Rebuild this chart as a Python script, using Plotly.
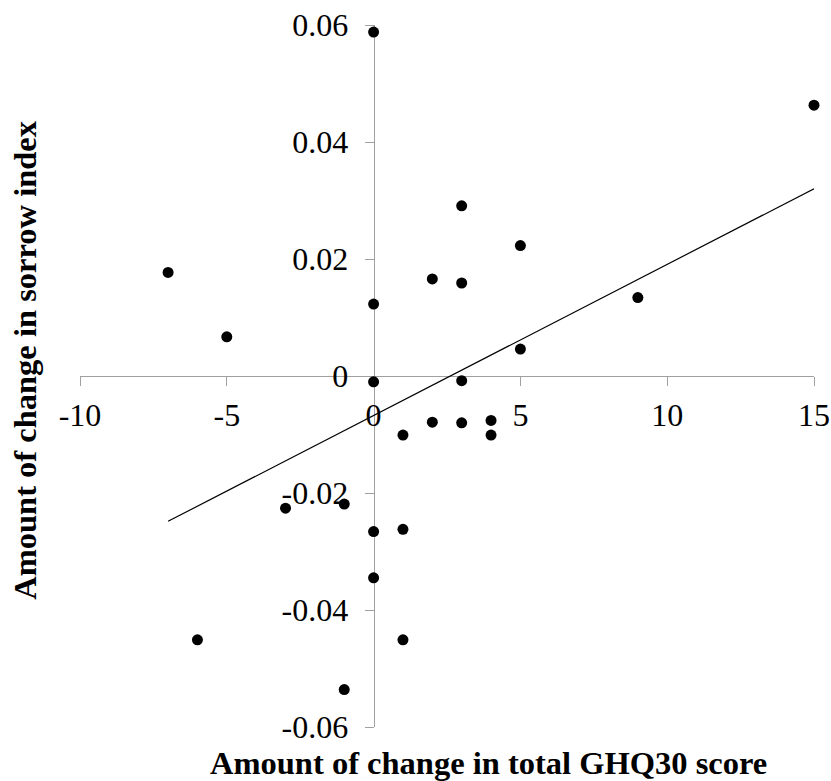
import numpy as np
import plotly.graph_objects as go

# GHQ30 change (x) vs sorrow index change (y)
ghq_change = [0, 15, 3, 5, -7, 2, 3, 9, 0, -5, 5, 0, 3, 1, 2, 3, 4, 4,
              -1, -3, 1, 0, 0, -6, 1, -1]
sorrow_change = [0.0588, 0.0463, 0.0291, 0.0223, 0.0177, 0.0166, 0.0159, 0.0134,
                 0.0123, 0.0067, 0.0046, -0.0010, -0.0008, -0.0101, -0.0079,
                 -0.0080, -0.0076, -0.0101, -0.0219, -0.0226, -0.0262, -0.0266,
                 -0.0345, -0.0451, -0.0451, -0.0536]

x_tickvals = [-10, -5, 0, 5, 10, 15]
x_ticktext = ["-10", "-5", "0", "5", "10", "15"]
y_tickvals = [-0.06, -0.04, -0.02, 0, 0.02, 0.04, 0.06]
y_ticktext = ["-0.06", "-0.04", "-0.02", "0", "0.02", "0.04", "0.06"]

x_title = "Amount of change in total GHQ30 score"
y_title = "Amount of change in sorrow index"

# linear trend line
slope, intercept = np.polyfit(ghq_change, sorrow_change, 1)
trend_x = [min(ghq_change), max(ghq_change)]
trend_y = [slope * v + intercept for v in trend_x]

FONT = "Liberation Serif, Times New Roman, serif"
AXIS_COLOR = "#a0a0a0"

fig = go.Figure()
fig.add_trace(go.Scatter(x=trend_x, y=trend_y, mode="lines",
                         line=dict(color="black", width=1.2), hoverinfo="skip"))
fig.add_trace(go.Scatter(x=ghq_change, y=sorrow_change, mode="markers",
                         marker=dict(color="black", size=11), cliponaxis=False))

fig.update_layout(
    width=831, height=781,
    margin=dict(l=80, r=17, t=25, b=54, autoexpand=False),
    paper_bgcolor="white", plot_bgcolor="white",
    showlegend=False,
    font=dict(family=FONT, size=32, color="black"),
    xaxis=dict(range=[-10, 15], anchor="free", position=0.5,
               tickvals=x_tickvals, ticktext=x_ticktext,
               showgrid=False, zeroline=False, automargin=False,
               showline=True, linecolor=AXIS_COLOR, linewidth=1,
               ticks="outside", ticklen=9, tickcolor=AXIS_COLOR, tickwidth=1,
               ticklabelstandoff=2, ticklabeloverflow="allow",
               tickfont=dict(family=FONT, size=32, color="black"),
               layer="below traces"),
    yaxis=dict(range=[-0.06, 0.06], anchor="free", position=0.4,
               tickvals=y_tickvals, ticktext=y_ticktext,
               showgrid=False, zeroline=False, automargin=False,
               showline=True, linecolor=AXIS_COLOR, linewidth=1,
               ticks="outside", ticklen=9, tickcolor=AXIS_COLOR, tickwidth=1,
               ticklabelstandoff=10, ticklabeloverflow="allow",
               tickfont=dict(family=FONT, size=32, color="black"),
               layer="below traces"),
    annotations=[
        dict(text="<b>" + x_title + "</b>", xref="paper", yref="paper",
             x=0.5565, y=-0.051, xanchor="center", yanchor="middle",
             showarrow=False, font=dict(family=FONT, size=32.5, color="black")),
        dict(text="<b>" + y_title + "</b>", xref="paper", yref="paper",
             x=-0.075, y=0.523, xanchor="center", yanchor="middle",
             textangle=-90, showarrow=False,
             font=dict(family=FONT, size=32.5, color="black")),
    ],
)

fig.write_html(
    "out.html",
    config={"displayModeBar": False},
    post_script="document.body.style.margin='0';document.body.style.overflow='hidden';",
)
